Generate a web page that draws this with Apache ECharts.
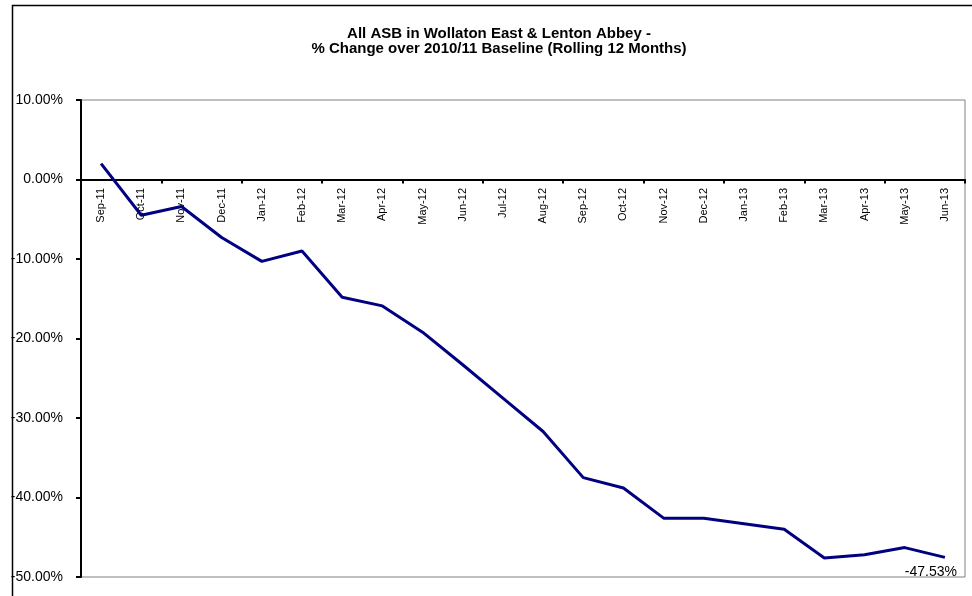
<!DOCTYPE html>
<html>
<head>
<meta charset="utf-8">
<script src="https://cdn.jsdelivr.net/npm/echarts@6/dist/echarts.min.js"></script>
<style>
html,body{margin:0;padding:0;background:#fff;}
#chart{width:972px;height:596px;}
</style>
</head>
<body>
<div id="chart"></div>
<script>
const months = ["Sep-11","Oct-11","Nov-11","Dec-11","Jan-12","Feb-12","Mar-12","Apr-12","May-12","Jun-12","Jul-12","Aug-12","Sep-12","Oct-12","Nov-12","Dec-12","Jan-13","Feb-13","Mar-13","Apr-13","May-13","Jun-13"];
const pctChange = [2.0,-4.5,-3.4,-7.3,-10.3,-9.0,-14.8,-15.9,-19.2,-23.3,-27.5,-31.7,-37.5,-38.8,-42.6,-42.6,-43.3,-44.0,-47.6,-47.2,-46.3,-47.53];
const titleLines = ["All ASB in Wollaton East & Lenton Abbey -","% Change over 2010/11 Baseline (Rolling 12 Months)"];

const chart = echarts.init(document.getElementById('chart'), null, {renderer:'canvas'});
const lastIdx = pctChange.length - 1;
const FONT = 'Liberation Sans, Arial, sans-serif';
chart.setOption({
  animation:false,
  backgroundColor:'#fff',
  textStyle:{fontFamily:FONT},
  title:{
    text:titleLines.join('\n'),
    left:494, top:21, textAlign:'center',
    textStyle:{fontSize:15,fontWeight:'bold',color:'#000',lineHeight:15,fontFamily:FONT}
  },
  graphic:[{
    type:'rect', z:-10, silent:true,
    shape:{x:12.5,y:5.5,width:1200,height:1200},
    style:{fill:null,stroke:'#000',lineWidth:1.5}
  }],
  grid:[
    {left:81,right:7,top:100,bottom:19,show:true,borderColor:'#808080',borderWidth:1,backgroundColor:'transparent',outerBoundsMode:'none',containLabel:false},
    {left:81,right:7,top:100,height:80,show:false,outerBoundsMode:'none',containLabel:false}
  ],
  xAxis:[{
    type:'category',
    gridIndex:0,
    data:months,
    boundaryGap:true,
    axisLine:{onZero:true,lineStyle:{color:'#000',width:2}},
    axisTick:{show:true,length:4,lineStyle:{color:'#000',width:2}},
    axisLabel:{show:false},
    splitLine:{show:false}
  },{
    type:'category',
    gridIndex:1,
    position:'bottom',
    data:months,
    boundaryGap:true,
    axisLine:{show:false},
    axisTick:{show:false},
    axisLabel:{rotate:90,fontSize:11,color:'#000',margin:8,interval:0},
    splitLine:{show:false}
  }],
  yAxis:[{
    type:'value',
    gridIndex:0,
    min:-50,max:10,interval:10,
    axisLine:{show:true,lineStyle:{color:'#000',width:2}},
    axisTick:{show:true,length:5,lineStyle:{color:'#000',width:2}},
    axisLabel:{fontSize:14,color:'#000',margin:18,formatter:v=>v.toFixed(2)+'%'},
    splitLine:{show:false}
  },{
    type:'value',
    gridIndex:1,
    show:false
  }],
  series:[{
    type:'line',
    xAxisIndex:0, yAxisIndex:0,
    data:pctChange.map((v,i)=> i===lastIdx ? {value:v,label:{show:true}} : v),
    showSymbol:true,
    symbol:'circle',
    symbolSize:0,
    lineStyle:{color:'#000080',width:3},
    itemStyle:{color:'#000080'},
    label:{show:false,position:'bottom',offset:[-14,3],fontSize:14,color:'#000',formatter:p=>p.value.toFixed(2)+'%'}
  }]
});
</script>
</body>
</html>
